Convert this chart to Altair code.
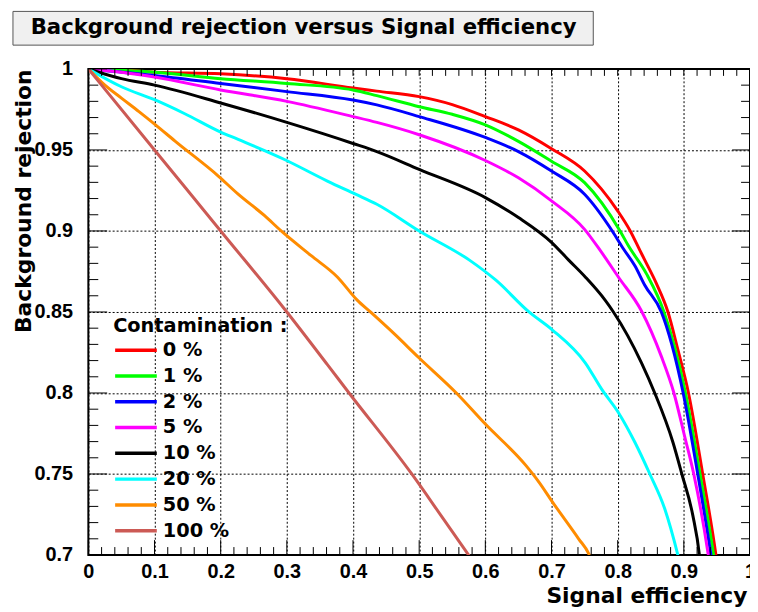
import altair as alt
import pandas as pd

# ---------------- data ----------------
series_names = ["0 %", "1 %", "2 %", "5 %", "10 %", "20 %", "50 %", "100 %"]
series_colors = ["#ff0000", "#00ff00", "#0000ff", "#ff00ff", "#000000",
                 "#00ffff", "#ff8c00", "#cc5a55"]

eff_0 = [0, 0.05, 0.1, 0.2, 0.3, 0.4, 0.436, 0.5, 0.55, 0.6, 0.65, 0.7, 0.75, 0.8,
         0.819, 0.8336, 0.841, 0.8586, 0.876, 0.891, 0.907, 0.9285, 0.9485, 0.955]
rej_0 = [1, 0.9995, 0.998, 0.997, 0.994, 0.9882, 0.9863, 0.9829, 0.978, 0.9706, 0.9624,
         0.9508, 0.937, 0.9124, 0.9, 0.888, 0.882, 0.8675, 0.85, 0.8267, 0.8, 0.75, 0.7, 0.68]

eff_1 = [0, 0.1, 0.2, 0.3, 0.4, 0.436, 0.5, 0.55, 0.6, 0.65, 0.7, 0.75, 0.8036, 0.816,
         0.8436, 0.870, 0.9025, 0.9245, 0.945, 0.952]
rej_1 = [1, 0.998, 0.994, 0.991, 0.987, 0.9835, 0.9767, 0.972, 0.9655, 0.9553, 0.943,
         0.9298, 0.9, 0.891, 0.8735, 0.85, 0.8, 0.75, 0.7, 0.68]

eff_2 = [0, 0.1, 0.2, 0.3, 0.4, 0.436, 0.5, 0.6, 0.65, 0.7, 0.75, 0.7918, 0.8086, 0.826,
         0.841, 0.866, 0.899, 0.921, 0.941, 0.948]
rej_2 = [1, 0.996, 0.991, 0.986, 0.9808, 0.9778, 0.9706, 0.9577, 0.949, 0.937, 0.9227,
         0.9, 0.889, 0.8785, 0.8665, 0.85, 0.8, 0.75, 0.7, 0.68]

eff_5 = [0, 0.05, 0.1, 0.2, 0.3, 0.4, 0.436, 0.5, 0.6, 0.65, 0.7, 0.75, 0.7736, 0.801,
         0.836, 0.866, 0.885, 0.901, 0.915, 0.937, 0.944]
rej_5 = [1, 0.998, 0.995, 0.987, 0.98, 0.9706, 0.967, 0.9594, 0.9435, 0.9328, 0.9186,
         0.901, 0.888, 0.8716, 0.8506, 0.8226, 0.8, 0.7736, 0.75, 0.7, 0.68]

eff_10 = [0, 0.05, 0.1, 0.2, 0.3, 0.4, 0.436, 0.5, 0.6, 0.65, 0.7, 0.726, 0.751, 0.781,
          0.7936, 0.836, 0.856, 0.8835, 0.897, 0.9135, 0.9235, 0.928]
rej_10 = [1, 0.994, 0.990, 0.979, 0.967, 0.954, 0.949, 0.938, 0.9206, 0.9083, 0.893,
          0.882, 0.8716, 0.8573, 0.85, 0.8186, 0.8, 0.7696, 0.75, 0.7246, 0.7, 0.68]

eff_20 = [0, 0.05, 0.1, 0.145, 0.2, 0.2264, 0.2964, 0.3613, 0.4038, 0.436, 0.5, 0.576,
          0.616, 0.666, 0.701, 0.751, 0.776, 0.801, 0.826, 0.8486, 0.871, 0.891, 0.897]
rej_20 = [1, 0.989, 0.981, 0.9725, 0.961, 0.9565, 0.9441, 0.9308, 0.9227, 0.9165, 0.9,
          0.882, 0.8696, 0.85, 0.839, 0.8186, 0.8022, 0.788, 0.7696, 0.75, 0.7287, 0.7, 0.69]

eff_50 = [0, 0.025, 0.05, 0.0765, 0.1015, 0.1315, 0.1964, 0.2264, 0.2664, 0.2914, 0.3363,
          0.3763, 0.4063, 0.4263, 0.4613, 0.5, 0.5562, 0.6, 0.6612, 0.681, 0.701, 0.741,
          0.756, 0.762]
rej_50 = [1, 0.99, 0.982, 0.9737, 0.9655, 0.9553, 0.9339, 0.9227, 0.9094, 0.9, 0.8849,
          0.8716, 0.8573, 0.85, 0.8369, 0.8216, 0.8, 0.7808, 0.7553, 0.745, 0.733, 0.710,
          0.701, 0.695]

eff_100 = [0, 0.1, 0.2, 0.3, 0.3613, 0.394, 0.4888, 0.536, 0.5737, 0.58]
rej_100 = [1, 0.95, 0.9, 0.85, 0.8175, 0.8, 0.75, 0.7226, 0.7006, 0.697]

x_major = [0, 0.1, 0.2, 0.3, 0.4, 0.5, 0.6, 0.7, 0.8, 0.9, 1.0]
y_major = [0.7, 0.75, 0.8, 0.85, 0.9, 0.95, 1.0]
x_minor = [round(0.02 * i, 2) for i in range(51) if i % 5]
y_minor = [round(0.7 + 0.01 * i, 2) for i in range(31) if i % 5]

title_text = "Background rejection versus Signal efficiency"

# ---------------- build table ----------------
curves = [(eff_0, rej_0), (eff_1, rej_1), (eff_2, rej_2), (eff_5, rej_5),
          (eff_10, rej_10), (eff_20, rej_20), (eff_50, rej_50), (eff_100, rej_100)]
rows = []
for name, (xs, ys) in zip(series_names, curves):
    for i, (a, b) in enumerate(zip(xs, ys)):
        rows.append({"eff": a, "rej": b, "series": name, "i": i})
df = pd.DataFrame(rows)

W, H = 667, 490
xscale = alt.Scale(domain=[0, 1], nice=False, zero=False)
yscale = alt.Scale(domain=[0.7, 1], nice=False, zero=False)

x_axis = alt.Axis(values=x_major, format="~g", grid=True, gridDash=[2, 2],
                  gridColor="black", gridOpacity=1, gridWidth=1, domain=False,
                  ticks=False, labelFont="Liberation Sans", labelFontSize=20,
                  labelFontWeight="bold", labelColor="black", labelPadding=7,
                  labelFlush=False, labelOverlap=False,
                  title="Signal efficiency", titleFont="DejaVu Sans", titleFontSize=22,
                  titleFontWeight="bold", titleColor="black", titleAnchor="end",
                  titleAlign="right", titleBaseline="alphabetic", titleX=664, titleY=48)
y_axis = alt.Axis(values=y_major, format="~g", grid=True, gridDash=[2, 2],
                  gridColor="black", gridOpacity=1, gridWidth=1, domain=False,
                  ticks=False, labelFont="Liberation Sans", labelFontSize=20,
                  labelFontWeight="bold", labelColor="black", labelPadding=16,
                  labelFlush=False, labelOverlap=False,
                  title="Background rejection", titleFont="DejaVu Sans", titleFontSize=22,
                  titleFontWeight="bold", titleColor="black", titleAngle=270,
                  titleAnchor="end", titleAlign="right", titleBaseline="alphabetic",
                  titleX=-58, titleY=0)

legend = alt.Legend(orient="none", legendX=25, legendY=250, title="Contamination :",
                    titleFont="DejaVu Sans", titleFontSize=19.5, titleFontWeight="bold",
                    titleColor="black", titlePadding=2, symbolType="stroke",
                    symbolSize=1764, symbolStrokeWidth=3.5, clipHeight=24, rowPadding=2,
                    labelFont="DejaVu Sans", labelFontSize=19.5, labelFontWeight="bold",
                    labelColor="black", labelOffset=4, padding=0)

lines = alt.Chart(df).mark_line(strokeWidth=3, clip=True, interpolate="monotone").encode(
    x=alt.X("eff:Q", scale=xscale, axis=x_axis),
    y=alt.Y("rej:Q", scale=yscale, axis=y_axis),
    color=alt.Color("series:N", scale=alt.Scale(domain=series_names, range=series_colors),
                    sort=series_names, legend=legend),
    order="i:Q",
)

def xticks(vals, y0, y1):
    return alt.Chart(pd.DataFrame({"eff": vals})).mark_rule(color="black", strokeWidth=1).encode(
        x=alt.X("eff:Q", scale=xscale, axis=x_axis),
        y=alt.value(y0), y2=alt.value(y1))

def yticks(vals, x0, x1):
    return alt.Chart(pd.DataFrame({"rej": vals})).mark_rule(color="black", strokeWidth=1).encode(
        y=alt.Y("rej:Q", scale=yscale, axis=y_axis),
        x=alt.value(x0), x2=alt.value(x1))

tick_layers = [
    xticks(x_major, H, H - 15), xticks(x_minor, H, H - 8),
    xticks(x_major, 0, 7), xticks(x_minor, 0, 7),
    yticks(y_major, 0, 19), yticks(y_minor, 0, 10),
    yticks(y_major, W, W - 18), yticks(y_minor, W, W - 9),
]

title_df = pd.DataFrame({"t": [title_text]})
title_box = alt.Chart(title_df).mark_rect(fill="#f0f0f0", stroke="#555555", strokeWidth=1).encode(
    x=alt.value(-76), x2=alt.value(509), y=alt.value(-58), y2=alt.value(-24))
title_lbl = alt.Chart(title_df).mark_text(font="DejaVu Sans", fontSize=21.4, fontWeight="bold",
                                          color="black", align="center", baseline="middle").encode(
    x=alt.value(217), y=alt.value(-41), text="t:N")

chart = alt.layer(lines, *tick_layers, title_box, title_lbl).properties(
    width=W, height=H,
    padding={"left": 81, "top": 59, "right": 0, "bottom": 53},
    autosize=alt.AutoSizeParams(type="none"),
).configure_view(stroke="black", strokeWidth=2)

chart.save("out.html", embed_options={"renderer": "svg", "actions": False})
